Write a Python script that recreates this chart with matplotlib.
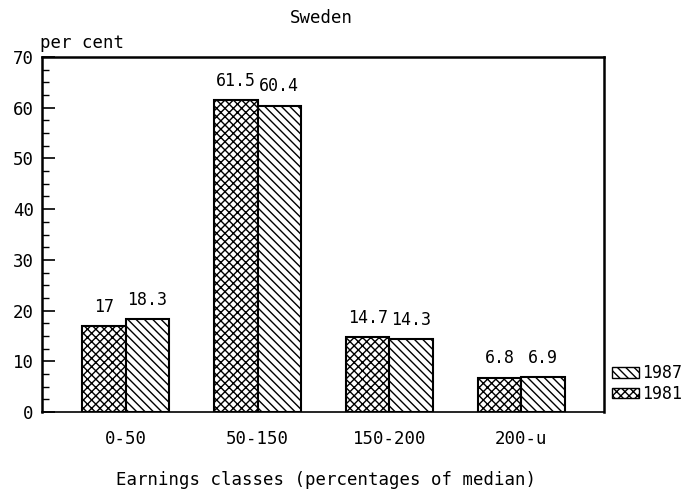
import numpy as np
import matplotlib
matplotlib.use("Agg")
import matplotlib.pyplot as plt
from matplotlib.patches import Patch
from matplotlib.ticker import MultipleLocator

# data
categories = ["0-50", "50-150", "150-200", "200-u"]
years = ["1981", "1987"]
vals_1981 = [17, 61.5, 14.7, 6.8]
vals_1987 = [18.3, 60.4, 14.3, 6.9]
labels_1981 = ["17", "61.5", "14.7", "6.8"]
labels_1987 = ["18.3", "60.4", "14.3", "6.9"]

plt.rcParams['font.family'] = ['DejaVu Sans Mono', 'DejaVu Sans']
plt.rcParams['hatch.linewidth'] = 1.0

fig = plt.figure(figsize=(6.98, 4.93), dpi=100)
ax = fig.add_axes([0.0602, 0.1643, 0.805, 0.720])

x = np.arange(len(categories))
w = 0.33
ax.bar(x - w / 2, vals_1981, w, facecolor='white', edgecolor='black',
       hatch='xxxx', linewidth=1.5)
ax.bar(x + w / 2, vals_1987, w, facecolor='white', edgecolor='black',
       hatch='\\\\\\\\', linewidth=1.5)

# value labels above each bar
for xi, v, lab in zip(x - w / 2, vals_1981, labels_1981):
    ax.text(xi, v + 3.8, lab, ha='center', va='center', fontsize=12)
for xi, v, lab in zip(x + w / 2, vals_1987, labels_1987):
    ax.text(xi, v + 3.8, lab, ha='center', va='center', fontsize=12)

ax.set_xlim(-0.633, 3.625)
ax.set_ylim(0, 70)
ax.set_xticks(x)
ax.set_xticklabels(categories, fontsize=12.5)
ax.tick_params(axis='x', length=0, pad=13)
ax.yaxis.set_major_locator(MultipleLocator(10))
ax.yaxis.set_minor_locator(MultipleLocator(2.5))
ax.tick_params(axis='y', which='major', direction='in', length=9.5, width=1.2,
               labelsize=12.5, pad=6)
ax.tick_params(axis='y', which='minor', direction='in', length=5, width=1)
for s in ax.spines.values():
    s.set_linewidth(1.8)
ax.spines['bottom'].set_linewidth(1.2)

fig.text(0.46, 0.963, "Sweden", ha='center', va='center', fontsize=12.5)
fig.text(0.0573, 0.913, "per cent", ha='left', va='center', fontsize=12.5)
fig.text(0.467, 0.026, "Earnings classes (percentages of median)",
         ha='center', va='center', fontsize=12.5)

# legend outside the axes, 1987 on top
handles = [Patch(facecolor='white', edgecolor='black', hatch='\\\\\\\\'),
           Patch(facecolor='white', edgecolor='black', hatch='xxxx')]
fig.legend(handles, [years[1], years[0]], loc='center left',
           bbox_to_anchor=(612 / 698, 1 - 383.5 / 493), frameon=False,
           fontsize=12, handlelength=1.6, handleheight=0.6, handletextpad=0.2,
           borderaxespad=0.0, borderpad=0.0, labelspacing=0.15)

fig.savefig("out.png", dpi=100)
